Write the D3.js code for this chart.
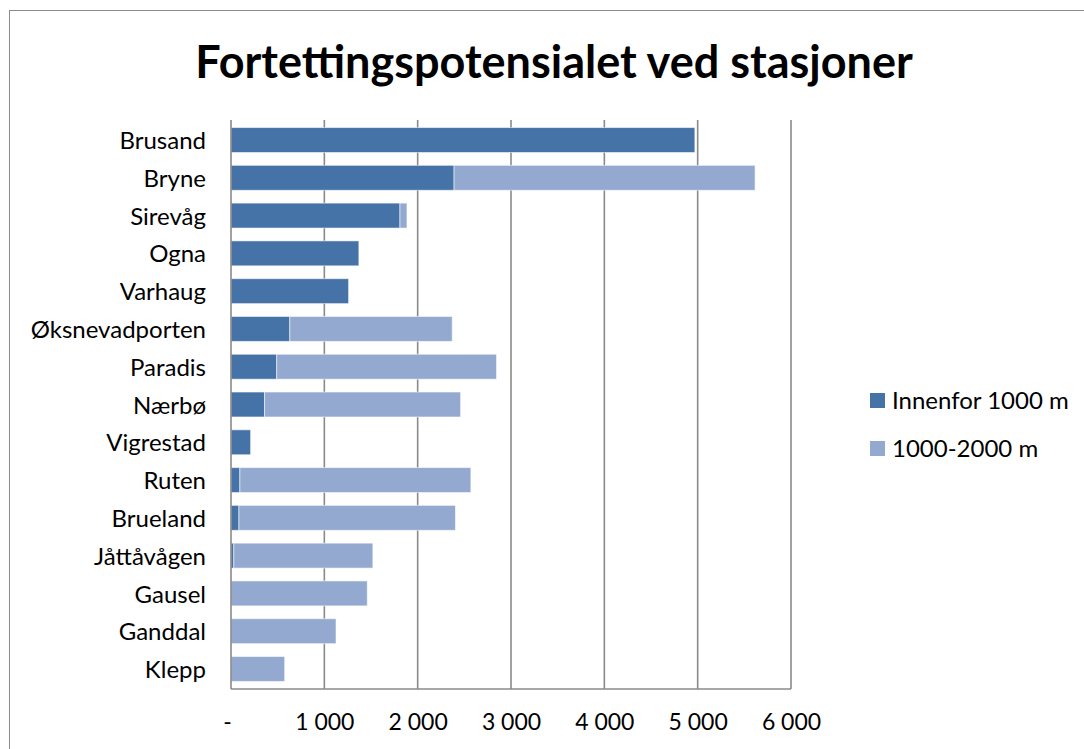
<!DOCTYPE html>
<html>
<head>
<meta charset="utf-8">
<script src="https://cdn.jsdelivr.net/npm/d3@7"></script>
<style>
  body { margin: 0; background: #fff; }
  svg { display: block; font-family: Lato, "Open Sans", sans-serif; }
</style>
</head>
<body>
<svg id="chart" width="1084" height="749"></svg>
<script>
// Data
const stations = ['Brusand', 'Bryne', 'Sirevåg', 'Ogna', 'Varhaug', 'Øksnevadporten', 'Paradis',
  'Nærbø', 'Vigrestad', 'Ruten', 'Brueland', 'Jåttåvågen', 'Gausel', 'Ganddal', 'Klepp'];
const inner1000 = [4970, 2390, 1810, 1370, 1260, 630, 490, 360, 210, 95, 85, 30, 0, 0, 0];
const outer2000 = [0, 3225, 75, 0, 0, 1740, 2355, 2100, 0, 2475, 2320, 1490, 1460, 1125, 575];
const seriesNames = ['Innenfor 1000 m', '1000-2000 m'];
const colors = ['#4572A7', '#93A9CF'];
const xTicks = [0, 1000, 2000, 3000, 4000, 5000, 6000];

const svg = d3.select('#chart');
const margin = { top: 120, left: 231, right: 293, bottom: 60 };
const width = 1084 - margin.left - margin.right;   // 560
const height = 749 - margin.top - margin.bottom;   // 569

// Outer chart frame (runs past right/bottom edges)
svg.append('rect')
  .attr('x', 9.5).attr('y', 10.5)
  .attr('width', 1100).attr('height', 800)
  .attr('fill', 'none').attr('stroke', '#8c8c8c').attr('stroke-width', 1);

svg.append('text')
  .attr('x', 554).attr('y', 78)
  .attr('text-anchor', 'middle')
  .style('font-weight', 'bold').style('font-size', '45px')
  .text('Fortettingspotensialet ved stasjoner');

const x = d3.scaleLinear().domain([0, 6000]).range([0, width]);
const y = d3.scaleBand().domain(stations).range([0, height]).paddingInner(0.34).paddingOuter(0.2);

const chart = svg.append('g').attr('transform', `translate(${margin.left},${margin.top})`);

// Gridlines
chart.append('g')
  .selectAll('line')
  .data(xTicks.slice(1))
  .join('line')
  .attr('x1', d => x(d)).attr('x2', d => x(d))
  .attr('y1', 0).attr('y2', height)
  .attr('stroke', '#8a8a8a').attr('stroke-width', 1.6);

// Stacked bars
const rows = stations.map((s, i) => ({ station: s, a: inner1000[i], b: outer2000[i] }));
const stack = d3.stack().keys(['a', 'b'])(rows);

chart.append('g')
  .selectAll('g')
  .data(stack)
  .join('g')
  .attr('fill', (d, i) => colors[i])
  .selectAll('rect')
  .data(d => d.filter(p => p[1] > p[0]))
  .join('rect')
  .attr('x', d => x(d[0]))
  .attr('width', d => x(d[1]) - x(d[0]))
  .attr('y', d => y(d.data.station))
  .attr('height', y.bandwidth())
  .attr('stroke', 'rgba(255,255,255,0.55)')
  .attr('stroke-width', 1);

// Axis lines
chart.append('line')
  .attr('x1', 0).attr('x2', 0).attr('y1', 0).attr('y2', height)
  .attr('stroke', '#8a8a8a').attr('stroke-width', 1.6);
chart.append('line')
  .attr('x1', 0).attr('x2', width).attr('y1', height).attr('y2', height)
  .attr('stroke', '#8a8a8a').attr('stroke-width', 1.6);

// Category labels
const yAxis = d3.axisLeft(y).tickSize(0).tickPadding(25);
chart.append('g')
  .call(yAxis)
  .call(g => g.select('.domain').remove())
  .selectAll('text')
  .style('font-family', 'Lato, sans-serif')
  .style('font-size', '24px')
  .attr('dy', '0.38em')
  .attr('fill', '#000');

// Value axis labels
const fmt = d => d === 0 ? '-' : d3.format(',')(d).replace(',', ' ');
const xAxis = d3.axisBottom(x).tickValues(xTicks).tickSize(0).tickPadding(25).tickFormat(fmt);
chart.append('g')
  .attr('transform', `translate(0,${height})`)
  .call(xAxis)
  .call(g => g.select('.domain').remove())
  .call(g => g.selectAll('.tick').filter(d => d === 0).select('text').attr('dx', -4))
  .selectAll('text')
  .style('font-family', 'Lato, sans-serif')
  .style('font-size', '23px')
  .attr('fill', '#000');

// Legend
const legend = svg.append('g').attr('transform', 'translate(870,393)');
const items = legend.selectAll('g')
  .data(seriesNames)
  .join('g')
  .attr('transform', (d, i) => `translate(0,${i * 48})`);
items.append('rect')
  .attr('width', 15).attr('height', 15)
  .attr('fill', (d, i) => colors[i]);
items.append('text')
  .attr('x', 22).attr('y', 7.5)
  .attr('dy', '0.36em')
  .style('font-size', '24px')
  .text(d => d);
</script>
</body>
</html>
